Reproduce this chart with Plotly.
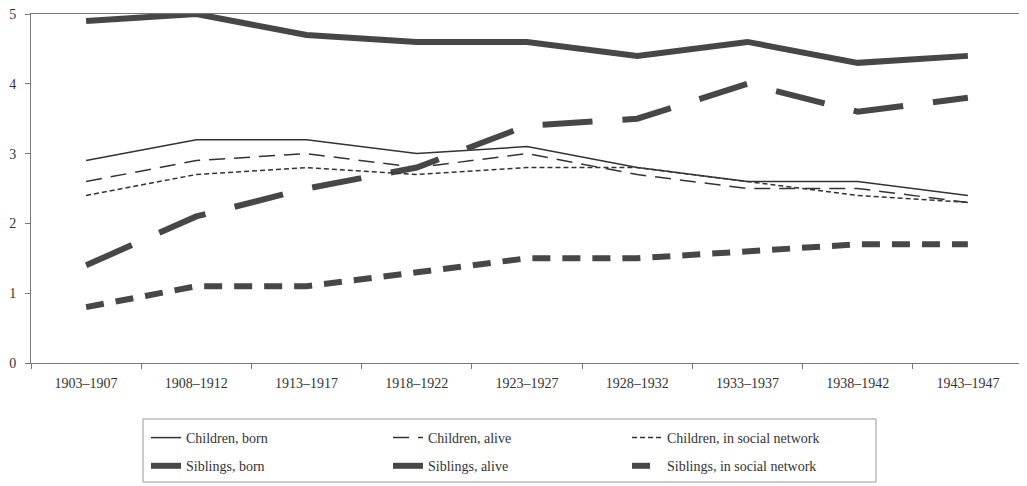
import plotly.graph_objects as go

categories = ["1903–1907", "1908–1912", "1913–1917", "1918–1922", "1923–1927",
              "1928–1932", "1933–1937", "1938–1942", "1943–1947"]
children_born = [2.9, 3.2, 3.2, 3.0, 3.1, 2.8, 2.6, 2.6, 2.4]
children_alive = [2.6, 2.9, 3.0, 2.8, 3.0, 2.7, 2.5, 2.5, 2.3]
children_network = [2.4, 2.7, 2.8, 2.7, 2.8, 2.8, 2.6, 2.4, 2.3]
siblings_born = [4.9, 5.0, 4.7, 4.6, 4.6, 4.4, 4.6, 4.3, 4.4]
siblings_alive = [1.4, 2.1, 2.5, 2.8, 3.4, 3.5, 4.0, 3.6, 3.8]
siblings_network = [0.8, 1.1, 1.1, 1.3, 1.5, 1.5, 1.6, 1.7, 1.7]
y_ticks = [0, 1, 2, 3, 4, 5]

FONT = "Liberation Serif, Times New Roman, serif"
thin_c = "#333333"
thick_c = "#474747"

series = [
    ("Children, born", children_born, thin_c, 1.5, "solid", "legend"),
    ("Siblings, born", siblings_born, thick_c, 6, "solid", "legend"),
    ("Children, alive", children_alive, thin_c, 1.5, "16px,9px", "legend2"),
    ("Siblings, alive", siblings_alive, thick_c, 6, "50px,30px", "legend2"),
    ("Children, in social network", children_network, thin_c, 1.5, "5px,3px", "legend3"),
    ("Siblings, in social network", siblings_network, thick_c, 6, "18px,12px", "legend3"),
]

fig = go.Figure()
for i, (name, vals, col, w, dash, lg) in enumerate(series):
    fig.add_trace(go.Scatter(
        x=categories, y=vals, mode="lines", name=name,
        line=dict(color=col, width=w, dash=dash),
        legend=lg, legendgroup=name,
    ))

# page body has an 8px margin, so the figure is drawn 8px right/down
OFF = 8
TOP = 14      # page y of plot top (kept low enough for the "5" label)
BOTTOM = 363  # page y of plot bottom

def px_x(p):
    return (p - 31) / 992

def px_y(p):
    return (BOTTOM - p) / (BOTTOM - TOP)

leg_common = dict(
    font=dict(family=FONT, size=14, color="#333333"),
    bgcolor="rgba(0,0,0,0)", borderwidth=0,
    xanchor="left", yanchor="top", orientation="v",
    tracegroupgap=7, itemwidth=30,
)

fig.update_layout(
    width=1027 - OFF, height=486 - OFF,
    margin=dict(l=31 - OFF, r=4, t=TOP - OFF, b=486 - BOTTOM, autoexpand=False),
    paper_bgcolor="white", plot_bgcolor="white",
    font=dict(family=FONT, size=14, color="#333333"),
    showlegend=True,
    legend=dict(x=px_x(146), y=px_y(422), **leg_common),
    legend2=dict(x=px_x(388), y=px_y(422), **leg_common),
    legend3=dict(x=px_x(627), y=px_y(422), **leg_common),
    xaxis=dict(
        type="category", range=[-0.5, 8.5], tickson="boundaries",
        ticks="outside", ticklen=5, automargin=False,
        tickcolor="#777777", showline=True, linecolor="#777777", linewidth=1,
        mirror=True, showgrid=False, zeroline=False,
        tickfont=dict(family=FONT, size=14, color="#333333"),
        ticklabelstandoff=7, ticklabeloverflow="allow",
    ),
    yaxis=dict(
        range=[0, 5], tickvals=y_ticks, ticks="outside", ticklen=5,
        automargin=False,
        tickcolor="#777777", showline=True, linecolor="#777777", linewidth=1,
        mirror=True, showgrid=False, zeroline=False,
        tickfont=dict(family=FONT, size=14, color="#333333"),
        ticklabelstandoff=6, ticklabeloverflow="allow",
    ),
    shapes=[dict(
        type="rect", xref="paper", yref="paper",
        x0=px_x(143), x1=px_x(876), y0=px_y(482), y1=px_y(419),
        line=dict(color="#999999", width=1), fillcolor="rgba(0,0,0,0)",
    )],
)

fig.write_html("out.html")
